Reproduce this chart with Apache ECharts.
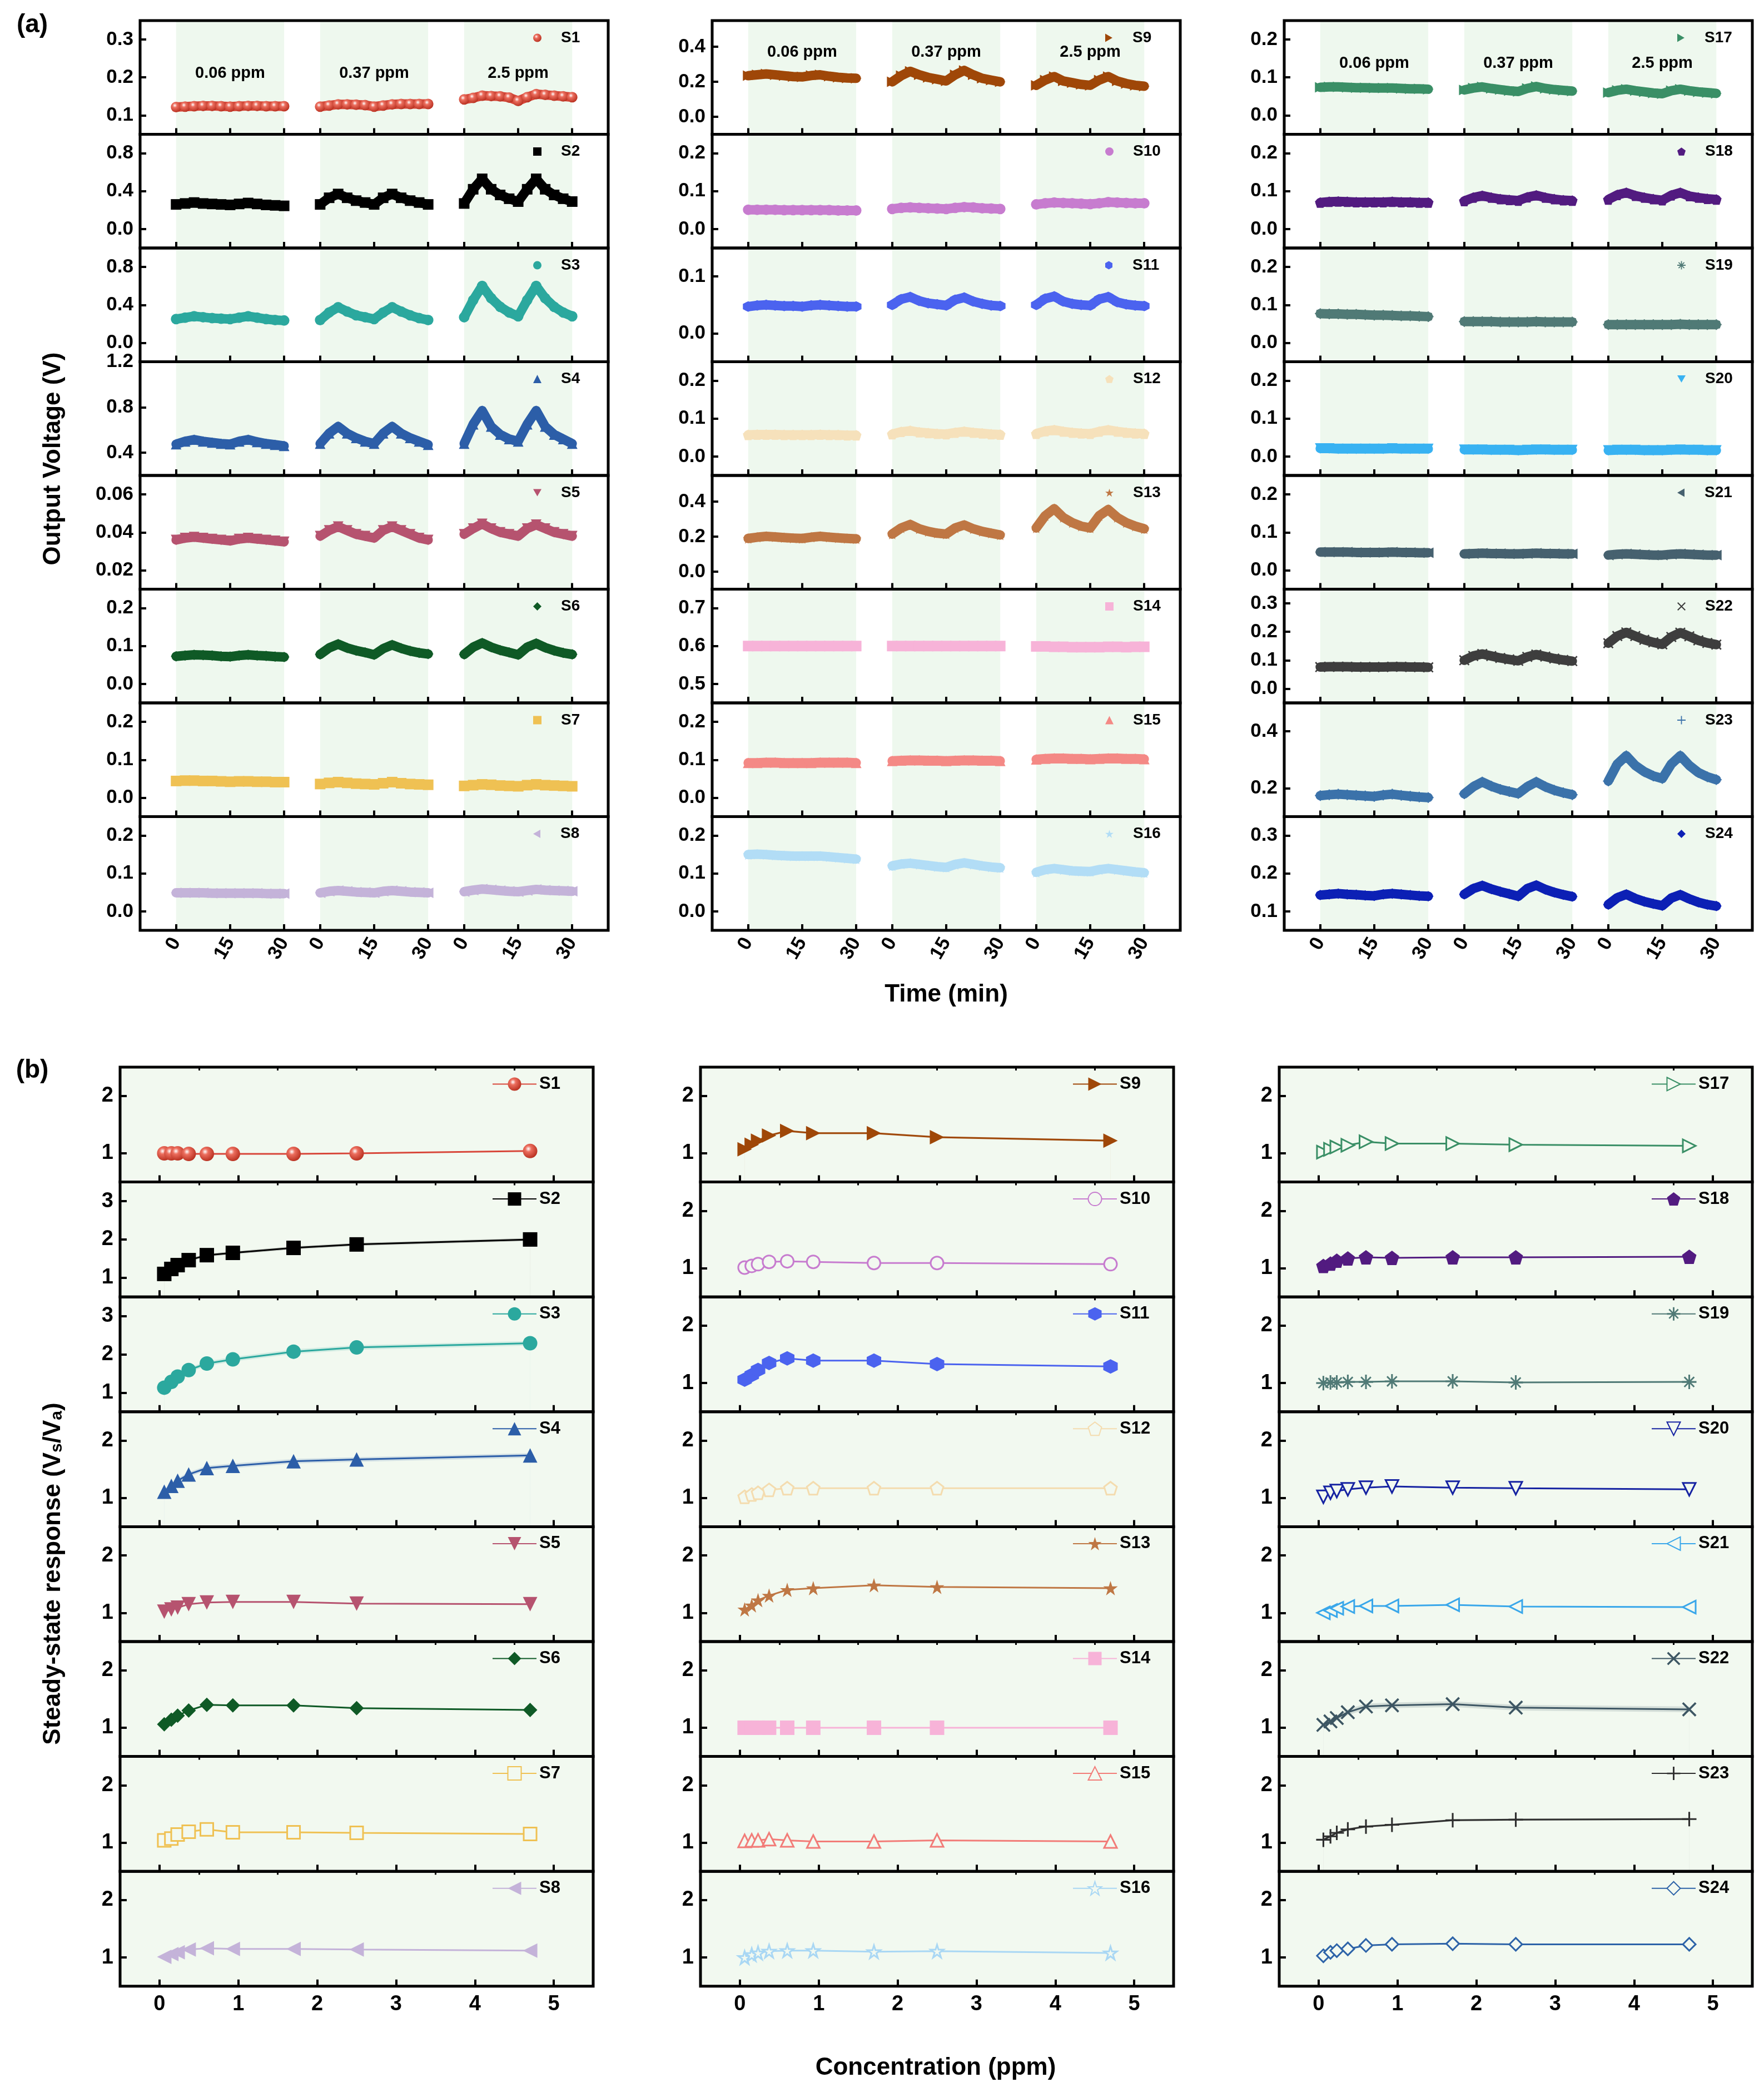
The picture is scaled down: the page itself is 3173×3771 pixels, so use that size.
<!DOCTYPE html>
<html>
<head>
<meta charset="utf-8">
<script src="https://cdn.jsdelivr.net/npm/echarts@6/dist/echarts.min.js"></script>
<style>
html, body { margin: 0; padding: 0; background: #fff; }
#main { width: 3173px; height: 3771px; }
</style>
</head>
<body>
<div id="main"></div>
<script>
// ---- data ----
var names = ['S1','S2','S3','S4','S5','S6','S7','S8','S9','S10','S11','S12',
             'S13','S14','S15','S16','S17','S18','S19','S20','S21','S22','S23','S24'];

// (a) time inside each exposure, three exposures side by side
var T = [0, 2.5, 5, 7.5, 10, 12.5, 15, 17.5, 20, 22.5, 25, 27.5, 30];
var segOffset = [0, 40, 80];
var segLabels = ['0.06 ppm', '0.37 ppm', '2.5 ppm'];
var timeTicks = [0, 15, 30, 40, 55, 70, 80, 95, 110];

var v1 = [[0.122,0.123,0.124,0.125,0.125,0.124,0.123,0.124,0.125,0.125,0.124,0.124,0.124],
          [0.123,0.126,0.129,0.129,0.128,0.127,0.123,0.126,0.129,0.130,0.130,0.130,0.130],
          [0.142,0.146,0.152,0.151,0.150,0.147,0.138,0.148,0.156,0.154,0.152,0.150,0.148]];
var v2 = [[0.26,0.27,0.28,0.27,0.265,0.26,0.255,0.265,0.275,0.265,0.255,0.25,0.245],
          [0.26,0.33,0.37,0.33,0.30,0.28,0.26,0.33,0.37,0.33,0.30,0.28,0.26],
          [0.27,0.42,0.53,0.42,0.36,0.32,0.29,0.42,0.53,0.42,0.36,0.32,0.29]];
var v3 = [[0.25,0.265,0.28,0.27,0.26,0.255,0.25,0.265,0.28,0.265,0.25,0.24,0.235],
          [0.24,0.32,0.375,0.33,0.29,0.27,0.25,0.32,0.375,0.33,0.29,0.26,0.24],
          [0.27,0.45,0.60,0.47,0.38,0.32,0.28,0.45,0.60,0.47,0.38,0.32,0.28]];
var v4 = [[0.475,0.50,0.515,0.50,0.49,0.48,0.475,0.50,0.515,0.495,0.48,0.47,0.46],
          [0.48,0.57,0.63,0.57,0.53,0.50,0.48,0.57,0.63,0.57,0.53,0.50,0.47],
          [0.48,0.65,0.77,0.63,0.56,0.52,0.50,0.65,0.77,0.63,0.56,0.52,0.48]];
var v5 = [[0.036,0.037,0.0375,0.037,0.0365,0.036,0.0355,0.0365,0.037,0.0365,0.036,0.0355,0.035],
          [0.038,0.041,0.043,0.041,0.039,0.038,0.037,0.041,0.043,0.041,0.039,0.037,0.036],
          [0.039,0.042,0.0445,0.042,0.040,0.039,0.038,0.042,0.044,0.042,0.040,0.039,0.038]];
var v6 = [[0.073,0.075,0.077,0.076,0.075,0.073,0.072,0.075,0.077,0.075,0.074,0.072,0.071],
          [0.078,0.095,0.105,0.095,0.088,0.083,0.077,0.093,0.103,0.094,0.087,0.082,0.079],
          [0.078,0.097,0.108,0.097,0.089,0.083,0.077,0.097,0.107,0.096,0.088,0.082,0.078]];
var v7 = [[0.044,0.045,0.045,0.044,0.044,0.043,0.042,0.043,0.043,0.042,0.042,0.041,0.041],
          [0.036,0.039,0.041,0.039,0.037,0.036,0.035,0.038,0.041,0.038,0.036,0.035,0.034],
          [0.031,0.033,0.035,0.034,0.032,0.031,0.030,0.033,0.035,0.033,0.032,0.031,0.030]];
var v8 = [[0.049,0.049,0.049,0.049,0.048,0.048,0.048,0.048,0.048,0.048,0.047,0.047,0.047],
          [0.049,0.053,0.055,0.053,0.051,0.050,0.049,0.053,0.055,0.053,0.051,0.050,0.049],
          [0.052,0.056,0.059,0.057,0.055,0.053,0.052,0.055,0.058,0.056,0.055,0.054,0.053]];
var v9 = [[0.235,0.24,0.245,0.24,0.235,0.23,0.228,0.236,0.24,0.232,0.226,0.222,0.22],
          [0.20,0.235,0.26,0.24,0.225,0.215,0.205,0.24,0.265,0.24,0.22,0.21,0.20],
          [0.18,0.21,0.23,0.205,0.195,0.185,0.18,0.21,0.23,0.205,0.19,0.18,0.175]];
var v10 = [[0.051,0.051,0.051,0.051,0.050,0.050,0.050,0.050,0.050,0.050,0.049,0.049,0.049],
           [0.053,0.056,0.057,0.056,0.055,0.054,0.053,0.056,0.058,0.057,0.055,0.054,0.053],
           [0.065,0.068,0.070,0.069,0.068,0.067,0.066,0.068,0.071,0.070,0.069,0.068,0.068]];
var v11 = [[0.047,0.049,0.050,0.049,0.048,0.048,0.047,0.049,0.050,0.049,0.048,0.047,0.047],
           [0.050,0.060,0.064,0.057,0.053,0.051,0.049,0.059,0.063,0.056,0.052,0.049,0.048],
           [0.050,0.061,0.065,0.056,0.052,0.050,0.049,0.060,0.064,0.055,0.051,0.049,0.048]];
var v12 = [[0.057,0.058,0.058,0.058,0.057,0.057,0.057,0.057,0.058,0.057,0.057,0.056,0.056],
           [0.059,0.065,0.068,0.064,0.062,0.060,0.059,0.063,0.066,0.063,0.061,0.059,0.058],
           [0.060,0.067,0.070,0.066,0.063,0.061,0.060,0.066,0.070,0.066,0.063,0.061,0.060]];
var v13 = [[0.190,0.197,0.202,0.199,0.195,0.192,0.190,0.197,0.202,0.197,0.193,0.190,0.188],
           [0.215,0.25,0.27,0.245,0.23,0.22,0.215,0.25,0.267,0.245,0.23,0.22,0.21],
           [0.25,0.32,0.36,0.31,0.28,0.26,0.25,0.32,0.355,0.31,0.28,0.26,0.245]];
var v14 = [[0.600,0.600,0.600,0.600,0.600,0.600,0.600,0.600,0.600,0.600,0.600,0.600,0.600],
           [0.600,0.600,0.600,0.600,0.600,0.600,0.600,0.600,0.600,0.600,0.600,0.600,0.600],
           [0.599,0.599,0.598,0.598,0.597,0.597,0.597,0.597,0.598,0.598,0.597,0.598,0.598]];
var v15 = [[0.092,0.092,0.093,0.093,0.092,0.092,0.092,0.092,0.093,0.093,0.093,0.093,0.092],
           [0.097,0.098,0.099,0.099,0.098,0.098,0.097,0.098,0.099,0.099,0.098,0.098,0.097],
           [0.101,0.103,0.104,0.104,0.103,0.103,0.102,0.103,0.104,0.104,0.103,0.103,0.102]];
var v16 = [[0.150,0.151,0.150,0.148,0.147,0.146,0.146,0.146,0.146,0.144,0.142,0.140,0.138],
           [0.120,0.125,0.127,0.124,0.121,0.118,0.116,0.124,0.128,0.124,0.120,0.117,0.115],
           [0.103,0.110,0.113,0.110,0.107,0.106,0.105,0.110,0.113,0.110,0.107,0.104,0.102]];
var v17 = [[0.074,0.075,0.075,0.074,0.073,0.073,0.072,0.072,0.072,0.071,0.070,0.070,0.069],
           [0.067,0.072,0.075,0.071,0.068,0.065,0.063,0.071,0.076,0.071,0.068,0.066,0.064],
           [0.060,0.066,0.069,0.065,0.062,0.059,0.057,0.065,0.069,0.065,0.062,0.060,0.058]];
var v18 = [[0.070,0.072,0.073,0.072,0.071,0.071,0.071,0.071,0.072,0.071,0.071,0.070,0.070],
           [0.074,0.083,0.088,0.083,0.079,0.077,0.075,0.084,0.089,0.083,0.079,0.076,0.075],
           [0.078,0.090,0.096,0.088,0.083,0.079,0.076,0.089,0.096,0.087,0.083,0.080,0.078]];
var v19 = [[0.077,0.076,0.076,0.075,0.075,0.074,0.073,0.073,0.072,0.071,0.071,0.070,0.069],
           [0.056,0.056,0.056,0.056,0.055,0.055,0.055,0.055,0.056,0.055,0.055,0.055,0.055],
           [0.048,0.048,0.048,0.048,0.048,0.048,0.048,0.048,0.049,0.048,0.048,0.048,0.048]];
var v20 = [[0.021,0.021,0.020,0.020,0.020,0.020,0.020,0.020,0.021,0.020,0.020,0.020,0.020],
           [0.018,0.018,0.018,0.017,0.017,0.017,0.016,0.017,0.018,0.018,0.017,0.017,0.017],
           [0.016,0.017,0.017,0.017,0.016,0.016,0.016,0.017,0.018,0.017,0.017,0.016,0.016]];
var v21 = [[0.048,0.048,0.048,0.048,0.047,0.047,0.047,0.047,0.048,0.047,0.047,0.046,0.046],
           [0.043,0.044,0.045,0.044,0.044,0.043,0.043,0.044,0.045,0.044,0.044,0.043,0.043],
           [0.040,0.042,0.043,0.042,0.041,0.040,0.040,0.042,0.043,0.042,0.041,0.040,0.040]];
var v22 = [[0.076,0.077,0.077,0.077,0.076,0.076,0.076,0.076,0.077,0.077,0.076,0.076,0.075],
           [0.100,0.115,0.122,0.115,0.108,0.103,0.098,0.112,0.120,0.113,0.106,0.101,0.097],
           [0.160,0.185,0.198,0.185,0.172,0.163,0.156,0.182,0.197,0.184,0.170,0.161,0.155]];
var v23 = [[0.174,0.177,0.179,0.177,0.175,0.173,0.171,0.176,0.179,0.175,0.172,0.169,0.167],
           [0.180,0.205,0.222,0.207,0.196,0.188,0.181,0.205,0.222,0.205,0.193,0.184,0.177],
           [0.225,0.285,0.314,0.280,0.258,0.243,0.234,0.285,0.314,0.280,0.255,0.240,0.230]];
var v24 = [[0.143,0.145,0.147,0.145,0.144,0.142,0.141,0.145,0.147,0.145,0.143,0.141,0.140],
           [0.145,0.160,0.168,0.159,0.152,0.146,0.140,0.160,0.169,0.158,0.150,0.144,0.139],
           [0.118,0.136,0.145,0.134,0.126,0.120,0.115,0.135,0.144,0.133,0.124,0.118,0.114]];
var volt = [v1,v2,v3,v4,v5,v6,v7,v8,v9,v10,v11,v12,v13,v14,v15,v16,v17,v18,v19,v20,v21,v22,v23,v24];

var voltRange = [[0.05,0.35],[-0.2,1.0],[-0.2,1.0],[0.2,1.2],[0.01,0.07],[-0.05,0.25],[-0.05,0.25],[-0.05,0.25],
                 [-0.1,0.55],[-0.05,0.25],[-0.05,0.15],[-0.05,0.25],[-0.1,0.55],[0.45,0.75],[-0.05,0.25],[-0.05,0.25],
                 [-0.05,0.25],[-0.05,0.25],[-0.05,0.25],[-0.05,0.25],[-0.05,0.25],[-0.05,0.35],[0.1,0.5],[0.05,0.35]];
var voltTicks = [[0.1,0.2,0.3],[0,0.4,0.8],[0,0.4,0.8],[0.4,0.8,1.2],[0.02,0.04,0.06],[0,0.1,0.2],[0,0.1,0.2],[0,0.1,0.2],
                 [0,0.2,0.4],[0,0.1,0.2],[0,0.1],[0,0.1,0.2],[0,0.2,0.4],[0.5,0.6,0.7],[0,0.1,0.2],[0,0.1,0.2],
                 [0,0.1,0.2],[0,0.1,0.2],[0,0.1,0.2],[0,0.1,0.2],[0,0.1,0.2],[0,0.1,0.2,0.3],[0.2,0.4],[0.1,0.2,0.3]];

// (b) steady-state response vs concentration
var conc = [0.06, 0.15, 0.23, 0.37, 0.6, 0.93, 1.7, 2.5, 4.7];
var concTicks = [0, 1, 2, 3, 4, 5];
var concMinor = [0.5, 1.5, 2.5, 3.5, 4.5];

var r1 = [1.00,1.00,1.00,0.99,0.99,0.99,0.99,1.00,1.04];
var r2 = [1.10,1.23,1.33,1.46,1.59,1.65,1.78,1.87,2.00];
var r3 = [1.13,1.28,1.42,1.59,1.76,1.87,2.07,2.18,2.29];
var r4 = [1.11,1.21,1.30,1.41,1.52,1.56,1.64,1.67,1.74];
var r5 = [1.02,1.06,1.09,1.15,1.18,1.19,1.19,1.16,1.15];
var r6 = [1.06,1.14,1.21,1.30,1.40,1.39,1.39,1.34,1.31];
var r7 = [1.04,1.07,1.14,1.19,1.23,1.18,1.18,1.17,1.15];
var r8 = [1.01,1.06,1.09,1.14,1.16,1.15,1.15,1.14,1.12];
var r9 = [1.07,1.15,1.22,1.31,1.39,1.35,1.35,1.28,1.22];
var r10 = [1.01,1.04,1.07,1.11,1.12,1.11,1.09,1.09,1.07];
var r11 = [1.06,1.14,1.23,1.35,1.43,1.39,1.39,1.33,1.29];
var r12 = [1.02,1.06,1.09,1.14,1.17,1.17,1.17,1.17,1.17];
var r13 = [1.06,1.13,1.22,1.30,1.40,1.43,1.48,1.45,1.43];
var r14 = [1.00,1.00,1.00,1.00,1.00,1.00,1.00,1.00,1.00];
var r15 = [1.03,1.04,1.04,1.06,1.04,1.02,1.02,1.04,1.02];
var r16 = [1.00,1.05,1.08,1.11,1.12,1.12,1.10,1.11,1.08];
var r17 = [1.02,1.07,1.11,1.14,1.20,1.17,1.17,1.15,1.13];
var r18 = [1.04,1.08,1.13,1.17,1.19,1.18,1.19,1.19,1.20];
var r19 = [1.00,1.01,1.01,1.02,1.02,1.03,1.03,1.01,1.02];
var r20 = [1.02,1.09,1.12,1.15,1.18,1.20,1.18,1.17,1.15];
var r21 = [1.00,1.04,1.08,1.11,1.12,1.12,1.14,1.11,1.10];
var r22 = [1.05,1.11,1.17,1.27,1.37,1.39,1.41,1.35,1.32];
var r23 = [1.05,1.11,1.17,1.23,1.28,1.31,1.39,1.40,1.41];
var r24 = [1.03,1.09,1.12,1.15,1.21,1.23,1.24,1.23,1.23];
var resp = [r1,r2,r3,r4,r5,r6,r7,r8,r9,r10,r11,r12,r13,r14,r15,r16,r17,r18,r19,r20,r21,r22,r23,r24];
// half width of the error band drawn round the curves in (b)
var bandB = [0,0.04,0.06,0.04,0,0,0,0, 0.02,0,0,0,0,0,0,0, 0,0,0,0,0,0.05,0.02,0];

var respRange = [[0.5,2.5],[0.5,3.5],[0.5,3.5],[0.5,2.5],[0.5,2.5],[0.5,2.5],[0.5,2.5],[0.5,2.5],
                 [0.5,2.5],[0.5,2.5],[0.5,2.5],[0.5,2.5],[0.5,2.5],[0.5,2.5],[0.5,2.5],[0.5,2.5],
                 [0.5,2.5],[0.5,2.5],[0.5,2.5],[0.5,2.5],[0.5,2.5],[0.5,2.5],[0.5,2.5],[0.5,2.5]];
var respTicks = [[1,2],[1,2,3],[1,2,3],[1,2],[1,2],[1,2],[1,2],[1,2],
                 [1,2],[1,2],[1,2],[1,2],[1,2],[1,2],[1,2],[1,2],
                 [1,2],[1,2],[1,2],[1,2],[1,2],[1,2],[1,2],[1,2]];

// ---- styles ----
var colorsA = ['#d8473a','#000000','#2ba89e','#2c5ea8','#b6536f','#0f5a26','#efc153','#c4b3d9',
               '#9f4708','#c77ccf','#4b63ef','#f6e1bb','#bf7744','#f7b3d8','#f48985','#b2ddf6',
               '#3a8f66','#521b80','#507a76','#38b2f2','#46616f','#3e3e3e','#3b72aa','#0c20b5'];
var colorsB = ['#d8473a','#000000','#2ba89e','#2c5ea8','#b6536f','#0f5a26','#efc153','#c4b3d9',
               '#9f4708','#c77ccf','#4b63ef','#f4dcaf','#bf7744','#f7b3d8','#f27c78','#a9d7f4',
               '#3a8f66','#521b80','#507a76','#1623a2','#39a7ea','#3d5663','#2e2e2e','#2d63a8'];

var P = {
    down: 'path://M0,0L10,0L5,8.66Z',
    left: 'path://M8.66,0L8.66,10L0,5Z',
    right: 'path://M0,0L8.66,5L0,10Z',
    hex: 'path://M5,0L9.33,2.5L9.33,7.5L5,10L0.67,7.5L0.67,2.5Z',
    pent: 'path://M5,0L9.76,3.45L7.94,9.05L2.06,9.05L0.24,3.45Z',
    star: 'path://M5,0L6.12,3.46L9.76,3.46L6.82,5.59L7.94,9.05L5,6.91L2.06,9.05L3.18,5.59L0.24,3.46L3.88,3.46Z',
    plus: 'path://M4.4,0L5.6,0L5.6,4.4L10,4.4L10,5.6L5.6,5.6L5.6,10L4.4,10L4.4,5.6L0,5.6L0,4.4L4.4,4.4Z',
    cross: 'path://M0,1L1,0L10,9L9,10ZM9,0L10,1L1,10L0,9Z',
    aster: 'path://M4.4,0L5.6,0L5.6,10L4.4,10ZM10,4.4L10,5.6L0,5.6L0,4.4ZM1.2,2L2,1.2L8.8,8L8,8.8ZM8,1.2L8.8,2L2,8.8L1.2,8Z'
};
var symbols = ['circle','rect','circle','triangle',P.down,'diamond','rect',P.left,
               P.right,'circle',P.hex,P.pent,P.star,'rect','triangle',P.star,
               P.right,P.pent,P.aster,P.down,P.left,P.cross,P.plus,'diamond'];
var hollowB = [false,false,false,false,false,false,true,false,
               false,true,false,true,false,false,true,true,
               true,false,false,true,true,false,false,true];

var FONT = '"Liberation Sans", Arial, Helvetica, sans-serif';
var SHADE_A = '#eef8ee';
var BG_B = '#f2f9f0';
var ball = {type: 'radial', x: 0.38, y: 0.35, r: 0.7,
            colorStops: [{offset: 0, color: '#ffffff'}, {offset: 0.3, color: '#ec6e5e'}, {offset: 1, color: '#b52c1c'}]};

var colA = [252, 1281, 2310], topA = 37, hA = 204.5, wA = 842;
var colB = [216, 1260, 2301], topB = 1919, hB = 206.6, wB = 851;
var segLabelDist = [80, 42, 62];

var grids = [], xAxes = [], yAxes = [], series = [], legends = [], graphics = [];

function tickFormatter(ticks) {
    var step = ticks.length > 1 ? ticks[1] - ticks[0] : 0.1;
    var d = step < 0.099 ? 2 : 1;
    return function (v) { return v.toFixed(d); };
}
function plainName(n) { return n.split('|')[0]; }
function labelStyle(size) {
    return {fontSize: size, fontWeight: 'bold', fontFamily: FONT, color: '#000'};
}
function bareAxis() {
    return {axisLine: {show: false, onZero: false}, splitLine: {show: false}, z: 3};
}

// ---- panel (a) ----
for (var k = 0; k < 24; k++) {
    var col = Math.floor(k / 8), row = k % 8;
    var L = colA[col], Tp = topA + row * hA;
    grids.push({left: L, top: Tp, width: wA, height: hA, containLabel: false, outerBoundsMode: 'none'});
    var gi = grids.length - 1;

    xAxes.push(Object.assign(bareAxis(), {
        gridIndex: gi, type: 'value', min: -10, max: 120,
        axisTick: {inside: true, length: 11, lineStyle: {color: '#000', width: 4}, customValues: timeTicks},
        axisLabel: Object.assign({
            show: row === 7, customValues: timeTicks, rotate: 60, margin: 16,
            formatter: function (v) { return v >= 80 ? v - 80 : (v >= 40 ? v - 40 : v); }
        }, labelStyle(35))
    }));
    yAxes.push(Object.assign(bareAxis(), {
        gridIndex: gi, type: 'value', min: voltRange[k][0], max: voltRange[k][1],
        axisTick: {inside: true, length: 11, lineStyle: {color: '#000', width: 4}, customValues: voltTicks[k]},
        axisLabel: Object.assign({customValues: voltTicks[k], margin: 12, formatter: tickFormatter(voltTicks[k])}, labelStyle(35))
    }));

    var data = [];
    for (var s = 0; s < 3; s++) {
        for (var i = 0; i < T.length; i++) data.push([segOffset[s] + T[i], volt[k][s][i]]);
        if (s < 2) data.push([segOffset[s] + 35, '-']);
    }
    var bands = [];
    for (var s2 = 0; s2 < 3; s2++) {
        bands.push([{xAxis: segOffset[s2], name: segLabels[s2]}, {xAxis: segOffset[s2] + 30}]);
    }
    var c = colorsA[k];
    series.push({
        type: 'line', name: names[k] + '|a', xAxisIndex: xAxes.length - 1, yAxisIndex: yAxes.length - 1,
        data: data, connectNulls: false, symbol: symbols[k], symbolSize: 19,
        lineStyle: {color: c, width: 17, cap: 'round', join: 'round'},
        itemStyle: {color: k === 0 ? ball : c},
        z: 2,
        markArea: {
            silent: true,
            itemStyle: {color: SHADE_A},
            label: Object.assign({show: row === 0, position: 'insideTop', distance: segLabelDist[col]}, labelStyle(29)),
            data: bands
        }
    });
    legends.push({
        left: L + 707, top: Tp + 17, padding: 0, itemWidth: 15, itemHeight: 15, selectedMode: false,
        data: [{name: names[k] + '|a', icon: symbols[k]}], formatter: plainName,
        textStyle: Object.assign({padding: [0, 0, 0, 30]}, labelStyle(28))
    });
    graphics.push({type: 'rect', silent: true, z: 100, shape: {x: L, y: Tp, width: wA, height: hA},
                   style: {fill: null, stroke: '#000', lineWidth: 5}});
}

// ---- panel (b) ----
for (var k2 = 0; k2 < 24; k2++) {
    var colb = Math.floor(k2 / 8), rowb = k2 % 8;
    var Lb = colB[colb], Tb = topB + rowb * hB;
    grids.push({left: Lb, top: Tb, width: wB, height: hB, containLabel: false, outerBoundsMode: 'none',
                show: true, backgroundColor: BG_B, borderWidth: 0});
    var gb = grids.length - 1;

    xAxes.push(Object.assign(bareAxis(), {
        gridIndex: gb, type: 'value', min: -0.5, max: 5.5,
        axisTick: {inside: true, length: 12, lineStyle: {color: '#000', width: 4}, customValues: concTicks},
        axisLabel: Object.assign({show: rowb === 7, customValues: concTicks, margin: 14}, labelStyle(38))
    }));
    var xMajor = xAxes.length - 1;
    xAxes.push(Object.assign(bareAxis(), {
        gridIndex: gb, type: 'value', min: -0.5, max: 5.5,
        axisTick: {inside: true, length: 6, lineStyle: {color: '#000', width: 3}, customValues: concMinor},
        axisLabel: {show: false}
    }));
    yAxes.push(Object.assign(bareAxis(), {
        gridIndex: gb, type: 'value', min: respRange[k2][0], max: respRange[k2][1],
        axisTick: {inside: true, length: 12, lineStyle: {color: '#000', width: 4}, customValues: respTicks[k2]},
        axisLabel: Object.assign({customValues: respTicks[k2], margin: 12}, labelStyle(38))
    }));
    var yIdx = yAxes.length - 1;

    var cb = colorsB[k2];
    if (bandB[k2] > 0) {
        var w = bandB[k2];
        // upper edge filled with a light tint, lower edge filled back with the background
        series.push({
            type: 'line', name: names[k2] + '|hi', xAxisIndex: xMajor, yAxisIndex: yIdx,
            data: conc.map(function (x, i) { return [x, resp[k2][i] + w]; }),
            symbol: 'none', lineStyle: {width: 0}, silent: true, z: 1,
            areaStyle: {color: cb, opacity: 0.16, origin: 'start'}
        });
        series.push({
            type: 'line', name: names[k2] + '|lo', xAxisIndex: xMajor, yAxisIndex: yIdx,
            data: conc.map(function (x, i) { return [x, resp[k2][i] - w]; }),
            symbol: 'none', lineStyle: {width: 0}, silent: true, z: 1.5,
            areaStyle: {color: BG_B, opacity: 1, origin: 'start'}
        });
    }
    var iStyle = hollowB[k2] ? {color: BG_B, borderColor: cb, borderWidth: 3}
                             : {color: k2 === 0 ? ball : cb};
    series.push({
        type: 'line', name: names[k2] + '|b', xAxisIndex: xMajor, yAxisIndex: yIdx,
        data: conc.map(function (x, i) { return [x, resp[k2][i]]; }),
        symbol: symbols[k2], symbolSize: hollowB[k2] ? 23 : 26,
        lineStyle: {color: cb, width: 3}, itemStyle: iStyle, z: 2
    });
    legends.push({
        left: Lb + 669, top: Tb + 15, padding: 0, itemWidth: 79, itemHeight: 30, selectedMode: false,
        data: [names[k2] + '|b'], formatter: plainName,
        textStyle: labelStyle(31)
    });
    graphics.push({type: 'rect', silent: true, z: 100, shape: {x: Lb, y: Tb, width: wB, height: hB},
                   style: {fill: null, stroke: '#000', lineWidth: 5}});
}

// ---- titles ----
function txt(str, x, y, size, rot, rich) {
    return {type: 'text', x: x, y: y, rotation: rot || 0, z: 100, silent: true,
            style: {text: str, fontSize: size, fontWeight: 'bold', fontFamily: FONT, fill: '#000',
                    align: 'center', verticalAlign: 'middle', rich: rich}};
}
var subRich = {s: {fontSize: 30, fontWeight: 'bold', fontFamily: FONT, fill: '#000', verticalAlign: 'bottom', padding: [14, 0, 0, 0]}};
graphics.push(txt('(a)', 58, 45, 46));
graphics.push(txt('(b)', 58, 1925, 46));
graphics.push(txt('Output Voltage (V)', 96, 825, 44, Math.PI / 2));
graphics.push(txt('Time (min)', 1702, 1789, 44));
graphics.push(txt('Steady-state response (V{s|s}/V{s|a})', 96, 2830, 44, Math.PI / 2, subRich));
graphics.push(txt('Concentration (ppm)', 1683, 3719, 44));

var myChart = echarts.init(document.getElementById('main'));
var option = {
    animation: false,
    backgroundColor: '#ffffff',
    textStyle: {fontFamily: FONT},
    grid: grids,
    xAxis: xAxes,
    yAxis: yAxes,
    legend: legends,
    series: series,
    graphic: graphics
};
myChart.setOption(option);
</script>
</body>
</html>
